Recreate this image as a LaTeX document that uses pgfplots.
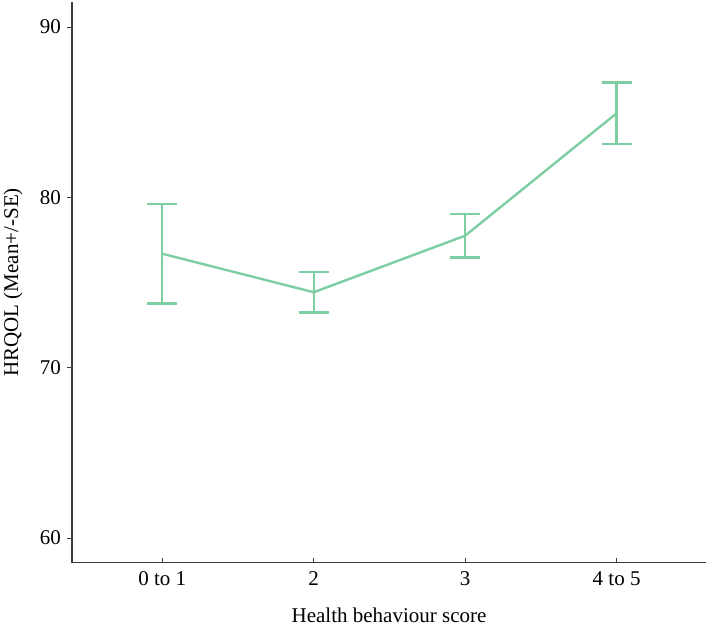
\documentclass[border=0pt]{standalone}
\usepackage{fontspec}
\setmainfont{Liberation Serif}
\usepackage{pgfplots}
\pgfplotsset{compat=1.18}
\definecolor{lgreen}{RGB}{125,206,163}
\definecolor{axgray}{RGB}{60,60,60}
\begin{document}
\fontsize{21}{24}\selectfont
\begin{tikzpicture}
\path[use as bounding box] (0pt,0pt) rectangle (709pt,630pt);
\begin{axis}[
  at={(72pt,67.3pt)}, anchor=south west,
  scale only axis, width=634pt, height=560.7pt,
  xmin=-0.596, xmax=3.59, ymin=58.55, ymax=91.47,
  axis x line*=bottom, axis y line*=left,
  axis line style={axgray, line width=1.2pt, -},
  xtick={0,1,2,3}, xticklabels={0 to 1,2,3,4 to 5},
  ytick={60,70,80,90},
  xtick align=inside, ytick align=outside,
  major tick length=5pt,
  tick style={axgray, line width=0.8pt},
  /pgf/number format/assume math mode=true,
  tick label style={font=\fontsize{21}{24}\selectfont, text=black},
  xticklabel style={yshift=-2pt},
  yticklabel style={xshift=1pt},
  label style={font=\fontsize{21}{24}\selectfont},
  xlabel={Health behaviour score},
  ylabel={HRQOL (Mean+/-SE)},
  xlabel style={at={(axis description cs:0.5,-0.093)}, anchor=center},
  ylabel style={at={(axis description cs:-0.093,0.5)}, anchor=center, rotate=0},
  clip=false,
]
\addplot[lgreen, line width=2.4pt, no marks,
  error bars/.cd, y dir=both, y explicit,
  error bar style={line width=2.4pt, lgreen},
  error mark options={rotate=90, lgreen, mark size=15pt, line width=2.4pt}]
  coordinates {
  (0,76.69) +- (0,2.92)
  (1,74.43) +- (0,1.2)
  (2,77.75) +- (0,1.27)
  (3,84.94) +- (0,1.8)
  };
\end{axis}
\end{tikzpicture}
\end{document}
